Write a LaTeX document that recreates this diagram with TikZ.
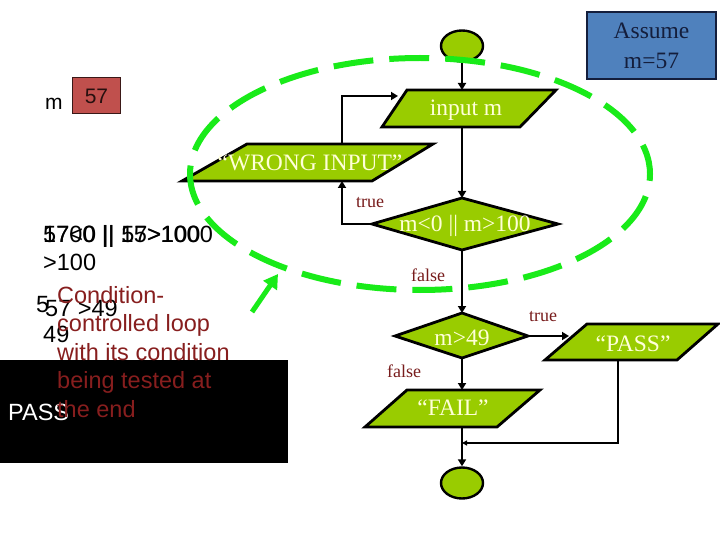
\documentclass[tikz,border=0pt]{standalone}
\usepackage{fontspec}
\setmainfont{Liberation Serif}
\newfontfamily\arialf{Liberation Sans}
\usetikzlibrary{arrows.meta,shapes.geometric}
\definecolor{flowgreen}{RGB}{153,204,0}
\definecolor{cream}{RGB}{255,255,215}
\definecolor{lblred}{RGB}{120,28,28}
\definecolor{loopgreen}{RGB}{25,235,25}
\definecolor{boxblue}{RGB}{79,129,189}
\definecolor{boxred}{RGB}{192,80,77}
\definecolor{navy}{RGB}{20,30,60}
\definecolor{redtext}{RGB}{135,30,30}
\begin{document}
\begin{tikzpicture}[x=1pt,y=-1pt,
  shapeline/.style={draw=black,line width=2.8pt,fill=flowgreen,line join=miter},
  flowtxt/.style={font=\fontsize{23.5}{28}\selectfont,text=cream,inner sep=0pt},
  conn/.style={line width=1.8pt,-{Triangle[length=7pt,width=8pt]}},
  thinconn/.style={line width=1.4pt,-{Triangle[length=5pt,width=5pt]}},
  lbltxt/.style={font=\fontsize{18}{20}\selectfont,text=lblred,inner sep=0pt},
  termnode/.style={ellipse,draw=black,line width=2.4pt,fill=flowgreen,minimum width=42pt,minimum height=31pt,inner sep=0pt},
  sidetxt/.style={font=\arialf\fontsize{23.5}{28.5}\selectfont,inner sep=0pt,anchor=base west,align=left}]
\useasboundingbox (0,0) rectangle (720,540);
\fill[white] (0,0) rectangle (720,540);

% black box with left texts
\fill[black] (0,360) rectangle (288,463);
\node[sidetxt,text=white] (passw) at (8,420) {PASS};
\node[sidetxt] (ov1) at (43,242) {57<0 || 57>100};
\node[sidetxt] (ov2) at (43,242) {1700 || 15>1000};
\node[sidetxt] (ov3) at (43,270) {>100};
\node[sidetxt] (ov4) at (36,312) {5};
\node[sidetxt] (ov5) at (45,316) {57 >49};
\node[sidetxt] (ov6) at (43,342) {49};
\node[sidetxt,text=redtext] (note) at (57,417) {Condition-\\controlled loop\\with its condition\\being tested at\\the end};

% m = 57 box
\node[font=\arialf\fontsize{21}{24}\selectfont,inner sep=0pt,anchor=base west] (mlab) at (45,110) {m};
\node[draw=black!70!boxred,line width=1pt,fill=boxred,minimum width=48pt,minimum height=36pt,inner sep=0pt,font=\arialf\fontsize{21}{24}\selectfont,text=black!80!boxred] (mval) at (96.5,96) {57};

% Assume box
\node[draw=navy,line width=2pt,fill=boxblue,minimum width=129pt,minimum height=67pt,align=center,font=\fontsize{23.5}{30}\selectfont,text=navy] (assume) at (651.5,45.5) {Assume\\m=57};

% coordinates of shapes
\coordinate (inTL) at (407,90); \coordinate (inTR) at (556,90);
\coordinate (inBR) at (520,127); \coordinate (inBL) at (382,127);
\coordinate (inT) at (462,90); \coordinate (inB) at (462,127);
\coordinate (inL) at (398,96);
\coordinate (wrTL) at (247,144); \coordinate (wrTR) at (433,144);
\coordinate (wrBR) at (372,181); \coordinate (wrBL) at (182,181);
\coordinate (wrT) at (342,144); \coordinate (wrB) at (342,181);
\coordinate (dAL) at (372,224); \coordinate (dAR) at (558,224);
\coordinate (dAT) at (462,198); \coordinate (dAB) at (462,250);
\coordinate (dBL) at (395,336); \coordinate (dBR) at (528,336);
\coordinate (dBT) at (462,313); \coordinate (dBB) at (462,358);
\coordinate (paTL) at (587,324); \coordinate (paTR) at (718,324);
\coordinate (paBR) at (677,360); \coordinate (paBL) at (545,360);
\coordinate (paL) at (569,336); \coordinate (paB) at (618,360);
\coordinate (faTL) at (407,390); \coordinate (faTR) at (540,390);
\coordinate (faBR) at (497,427); \coordinate (faBL) at (365,427);
\coordinate (faT) at (462,390); \coordinate (faB) at (462,427);
\coordinate (joinpt) at (462,443);

% shapes
\node[termnode] (start) at (462,46) {};
\node[termnode] (stop) at (462,483) {};
\filldraw[shapeline] (inTL) -- (inTR) -- (inBR) -- (inBL) -- cycle;
\filldraw[shapeline] (wrTL) -- (wrTR) -- (wrBR) -- (wrBL) -- cycle;
\filldraw[shapeline] (dAL) -- (dAT) -- (dAR) -- (dAB) -- cycle;
\filldraw[shapeline] (dBL) -- (dBT) -- (dBR) -- (dBB) -- cycle;
\filldraw[shapeline] (paTL) -- (paTR) -- (paBR) -- (paBL) -- cycle;
\filldraw[shapeline] (faTL) -- (faTR) -- (faBR) -- (faBL) -- cycle;

% connectors
\draw[conn] (start.south) -- (inT);
\draw[conn] (inB) -- (dAT);
\draw[conn] (dAL) -| (wrB);
\draw[conn] (wrT) |- (inL);
\draw[conn] (dAB) -- (dBT);
\draw[conn] (dBR) -- (paL);
\draw[conn] (dBB) -- (faT);
\draw[conn] (faB) -- (stop.north);
\draw[thinconn] (paB) |- (joinpt);

% texts in shapes
\node[flowtxt] (tin) at (466,110) {input m};
\node[flowtxt] (twr) at (310,163) {“WRONG INPUT”};
\node[flowtxt] (tdA) at (465,226) {m<0 || m>100};
\node[flowtxt] (tdB) at (462,338) {m>49};
\node[flowtxt] (tpa) at (633,344) {“PASS”};
\node[flowtxt] (tfa) at (453,408) {“FAIL”};

% labels
\node[lbltxt] (ltrueA) at (370,203) {true};
\node[lbltxt] (lfalseA) at (428,275) {false};
\node[lbltxt] (ltrueB) at (543,317) {true};
\node[lbltxt] (lfalseB) at (404,371) {false};

% green loop
\draw[loopgreen,line width=6pt,dash pattern=on 40pt off 16pt,dash phase=10pt] (420,174) ellipse [x radius=230pt, y radius=116pt];
\coordinate (gaS) at (252,312); \coordinate (gaE) at (278,274);
\draw[loopgreen,line width=5pt,-{Triangle[length=14pt,width=16pt]}] (gaS) -- (gaE);
\end{tikzpicture}
\end{document}
